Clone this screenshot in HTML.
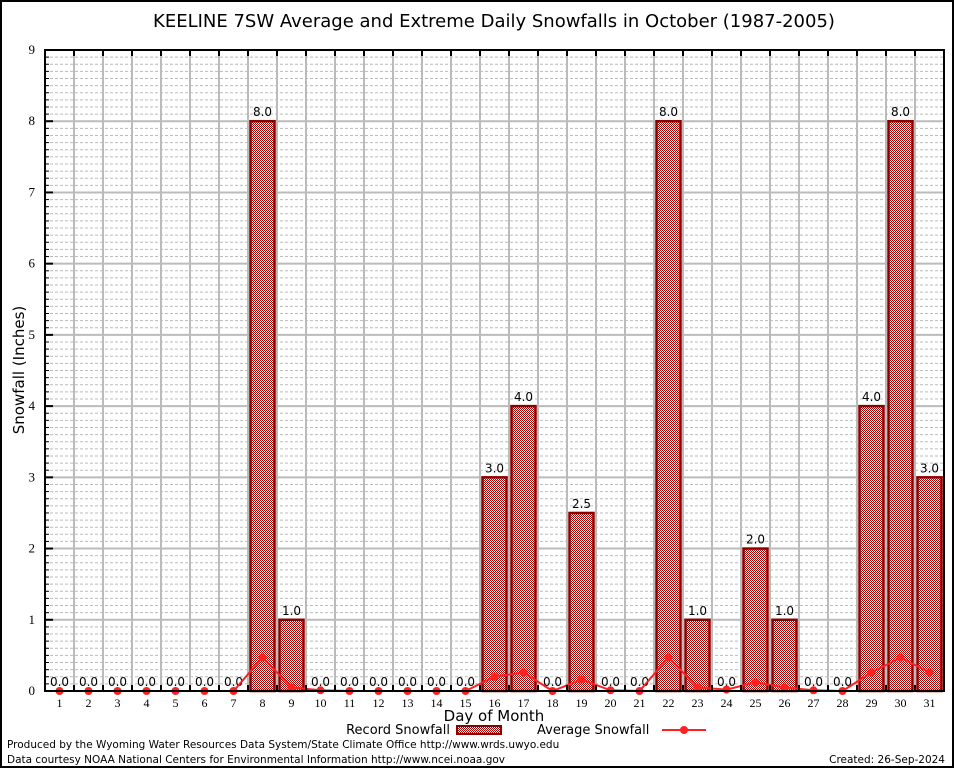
<!DOCTYPE html>
<html><head><meta charset="utf-8"><style>
body{margin:0;background:#fff;}
svg{display:block;font-family:"DejaVu Sans","Liberation Sans",sans-serif;}
</style></head><body>
<svg id="chart" width="954" height="768" viewBox="0 0 954 768">
<defs>
<pattern id="chk" width="2" height="2" patternUnits="userSpaceOnUse">
<rect width="2" height="2" fill="#fff"/><rect width="1" height="1" fill="#b00000"/><rect x="1" y="1" width="1" height="1" fill="#b00000"/>
</pattern>
</defs>
<rect x="1" y="1" width="952" height="766" fill="#fff" stroke="#000" stroke-width="2"/>
<text x="494" y="27" font-size="18" text-anchor="middle">KEELINE 7SW Average and Extreme Daily Snowfalls in October (1987-2005)</text>
<g id="grid"></g>
<g id="bars"></g>
<g id="line"></g>
<g id="axes"></g>
<text x="24" y="370" font-size="15" text-anchor="middle" transform="rotate(-90 24 370)">Snowfall (Inches)</text>
<text x="494" y="721" font-size="15" text-anchor="middle">Day of Month</text>
<g>
<text x="450" y="734" font-size="13" text-anchor="end">Record Snowfall</text>
<rect x="457" y="726" width="44" height="8" fill="url(#chk)" stroke="#8b0000" stroke-width="2"/>
<text x="537" y="734" font-size="13">Average Snowfall</text>
<line x1="662" y1="730" x2="706" y2="730" stroke="#ff2020" stroke-width="2"/>
<circle cx="684" cy="730" r="4" fill="#ff2020"/>
</g>
<text x="7" y="748" font-size="10.5">Produced by the Wyoming Water Resources Data System/State Climate Office http://www.wrds.uwyo.edu</text>
<text x="7" y="763" font-size="10.5">Data courtesy NOAA National Centers for Environmental Information http://www.ncei.noaa.gov</text>
<text x="945" y="763" font-size="10.5" text-anchor="end">Created: 26-Sep-2024</text>
</svg>
<script>
const days=[1,2,3,4,5,6,7,8,9,10,11,12,13,14,15,16,17,18,19,20,21,22,23,24,25,26,27,28,29,30,31];
const recordSnow=[0,0,0,0,0,0,0,8,1,0,0,0,0,0,0,3,4,0,2.5,0,0,8,1,0,2,1,0,0,4,8,3];
const avgSnow=[0,0,0,0,0,0,0,0.47,0.05,0.01,0,0,0,0,0,0.2,0.26,0,0.16,0.01,0,0.47,0.05,0.02,0.12,0.05,0.01,0,0.26,0.47,0.26];
const yTicks=[0,1,2,3,4,5,6,7,8,9];
const NS="http://www.w3.org/2000/svg";
const L=45,T=50,B=691,W=29,R=L+W*days.length;
const yMax=9;
function ys(v){return B-(v/yMax)*(B-T);}
function xs(i){return L+W*(i+0.5);}
function mk(tag,attrs,parent){const e=document.createElementNS(NS,tag);for(const k in attrs)e.setAttribute(k,attrs[k]);parent.appendChild(e);return e;}
const grid=document.getElementById('grid'),bars=document.getElementById('bars'),line=document.getElementById('line'),axes=document.getElementById('axes');
for(let k=1;k<yMax*10;k++){if(k%10===0)continue;const y=ys(k/10);
const g=mk('line',{x1:L,x2:R,y1:y,y2:y,stroke:'#bbb','stroke-width':1,'stroke-dasharray':'3,2'},grid);

}
yTicks.forEach(t=>{const y=ys(t);
const g=mk('line',{x1:L,x2:R,y1:y,y2:y,stroke:'#bbb','stroke-width':2},grid);


const tk=mk('line',{x1:L,x2:L+8,y1:y,y2:y,stroke:'#000','stroke-width':2},axes);


for(let m=1;m<10&&t<yMax;m++){const mt=mk('line',{x1:L,x2:L+4,y1:ys(t+m/10),y2:ys(t+m/10),stroke:'#000','stroke-width':1},axes);

}
const lb=mk('text',{x:L-10,y:y+4,'font-size':13,'text-anchor':'end','font-family':'Liberation Serif, serif'},axes);lb.textContent=t;

});
for(let i=1;i<days.length;i++){const x=L+W*i;
const g=mk('line',{x1:x,x2:x,y1:T,y2:B,stroke:'#bbb','stroke-width':2},grid);


const tk=mk('line',{x1:x,x2:x,y1:T,y2:T+6,stroke:'#000','stroke-width':2},axes);


const tb=mk('line',{x1:x,x2:x,y1:B,y2:B-6,stroke:'#000','stroke-width':2},axes);

}
const frame=mk('rect',{x:L,y:T,width:R-L,height:B-T,fill:'none',stroke:'#000','stroke-width':2},axes);


days.forEach((d,i)=>{const x=xs(i),v=recordSnow[i];
if(v>0){const b=mk('rect',{x:x-12,y:ys(v),width:24,height:B-ys(v),fill:'url(#chk)',stroke:'#8b0000','stroke-width':2.5},bars);

}
const t=mk('text',{x:x,y:ys(v)-5,'font-size':12,'text-anchor':'middle'},bars);t.textContent=v.toFixed(1);


const xl=mk('text',{x:x,y:B+16,'font-size':12,'text-anchor':'middle','font-family':'Liberation Serif, serif'},axes);xl.textContent=d;

});
const pl=mk('polyline',{points:avgSnow.map((v,i)=>xs(i)+','+ys(v)).join(' '),fill:'none',stroke:'#ff2020','stroke-width':2},line);


avgSnow.forEach((v,i)=>{const c=mk('circle',{cx:xs(i),cy:ys(v),r:4,fill:'#ff2020'},line);

});
</script>
</body></html>
